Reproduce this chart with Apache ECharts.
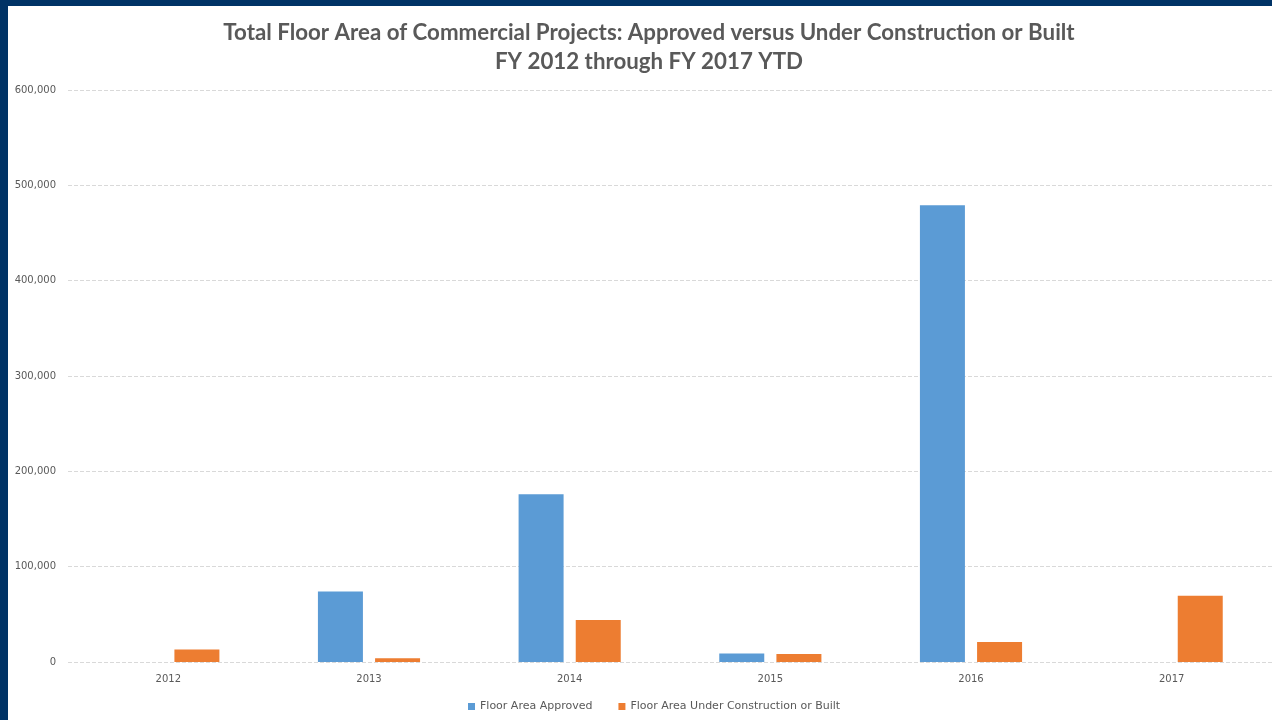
<!DOCTYPE html>
<html>
<head>
<meta charset="utf-8">
<script src="https://cdn.jsdelivr.net/npm/echarts@6/dist/echarts.min.js"></script>
<style>
    html, body { margin: 0; padding: 0; background: #003366; }
    #chart { position: absolute; left: 8px; top: 6px; width: 1264px; height: 714px; background: #ffffff; }
</style>
</head>
<body>
<div id="chart"></div>
<script>
// data
var years = ['2012', '2013', '2014', '2015', '2016', '2017'];
var approved = [0, 74000, 176000, 9000, 479000, 0];
var underConstruction = [13000, 4000, 44000, 8500, 21000, 69500];
var yTicks = [0, 100000, 200000, 300000, 400000, 500000, 600000];

var chart = echarts.init(document.getElementById('chart'));

var option = {
    animation: false,
    title: {
        text: 'Total Floor Area of Commercial Projects: Approved versus Under Construction or Built\nFY 2012 through FY 2017 YTD',
        left: 636,
        textAlign: 'center',
        top: 7,
        textStyle: {
            fontFamily: 'Lato',
            fontSize: 22.3,
            fontWeight: 'bold',
            color: '#595959',
            lineHeight: 29
        }
    },
    legend: {
        bottom: 3,
        left: 455,
        itemWidth: 7,
        itemHeight: 7,
        itemGap: 26,
        icon: 'rect',
        textStyle: { fontSize: 11, color: '#595959', fontFamily: 'DejaVu Sans' },
        data: ['Floor Area Approved', 'Floor Area Under Construction or Built']
    },
    grid: { left: 60, right: 0, top: 84, bottom: 58 },
    xAxis: {
        type: 'category',
        data: years,
        axisLine: { show: false },
        axisTick: { show: false },
        axisLabel: { fontSize: 10, color: '#595959', margin: 12, fontFamily: 'DejaVu Sans' }
    },
    yAxis: {
        type: 'value',
        min: yTicks[0],
        max: yTicks[yTicks.length - 1],
        interval: 100000,
        axisLine: { show: false },
        axisTick: { show: false },
        axisLabel: {
            fontSize: 10,
            color: '#595959',
            margin: 12,
            fontFamily: 'DejaVu Sans',
            formatter: function (v) { return v.toLocaleString('en-US'); }
        },
        splitLine: { lineStyle: { type: 'dashed', color: '#d9d9d9' } }
    },
    series: [{
        name: 'Floor Area Approved',
        type: 'bar',
        data: approved,
        barWidth: 45,
        barGap: '27%',
        itemStyle: { color: '#5b9bd5' }
    }, {
        name: 'Floor Area Under Construction or Built',
        type: 'bar',
        data: underConstruction,
        barWidth: 45,
        itemStyle: { color: '#ed7d31' }
    }]
};

chart.setOption(option);
</script>
</body>
</html>
